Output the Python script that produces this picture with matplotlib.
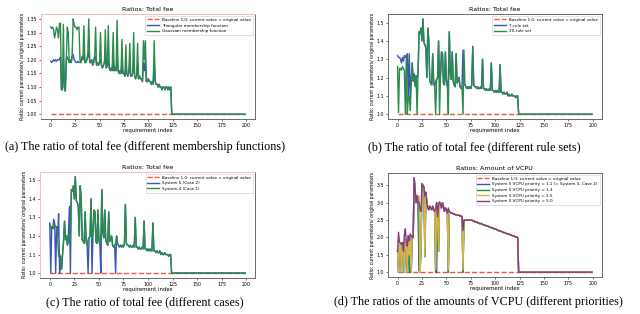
import numpy as np
import matplotlib
matplotlib.use("Agg")
import matplotlib.pyplot as plt

# ---------------- data ----------------
idx = np.arange(200)
tail = [1.00] * 75  # indices 125..199 all equal to 1.0

# (a) membership functions
gauss_a = [1.32, 1.315, 1.32, 1.31, 1.28, 1.30, 1.32, 1.31, 1.28, 1.33, 1.335, 1.09, 1.09, 1.33, 1.10, 1.085, 1.20, 1.32, 1.30, 1.19, 1.20, 1.19, 1.22, 1.35, 1.33,
           1.32, 1.32, 1.31, 1.32, 1.32, 1.20, 1.19, 1.21, 1.20, 1.325, 1.20, 1.19, 1.20, 1.22, 1.35, 1.19, 1.19, 1.20, 1.18, 1.19, 1.21, 1.32, 1.18, 1.19, 1.18,
           1.19, 1.30, 1.18, 1.17, 1.18, 1.19, 1.31, 1.17, 1.18, 1.325, 1.17, 1.16, 1.17, 1.16, 1.30, 1.16, 1.17, 1.16, 1.345, 1.16, 1.15, 1.16, 1.15, 1.275, 1.15,
           1.15, 1.14, 1.255, 1.15, 1.14, 1.15, 1.26, 1.14, 1.14, 1.15, 1.30, 1.14, 1.13, 1.14, 1.26, 1.13, 1.14, 1.13, 1.13, 1.12, 1.27, 1.20, 1.27, 1.12, 1.12,
           1.13, 1.12, 1.12, 1.11, 1.12, 1.11, 1.27, 1.12, 1.11, 1.11, 1.10, 1.11, 1.10, 1.10, 1.09, 1.10, 1.10, 1.09, 1.10, 1.10, 1.09, 1.10, 1.09, 1.10, 1.00] + tail
tri_a = [1.195, 1.19, 1.195, 1.20, 1.195, 1.20, 1.195, 1.20, 1.20, 1.20, 1.21, 1.09, 1.09, 1.20, 1.10, 1.085, 1.20, 1.21, 1.20, 1.19, 1.20, 1.19, 1.21, 1.22, 1.20,
         1.195, 1.19, 1.19, 1.195, 1.19, 1.19, 1.19, 1.21, 1.20, 1.22, 1.19, 1.19, 1.20, 1.21, 1.23, 1.19, 1.19, 1.20, 1.18, 1.19, 1.21, 1.21, 1.18, 1.19, 1.18,
         1.19, 1.20, 1.18, 1.17, 1.18, 1.19, 1.21, 1.17, 1.18, 1.20, 1.17, 1.16, 1.17, 1.16, 1.20, 1.16, 1.17, 1.16, 1.21, 1.16, 1.15, 1.16, 1.15, 1.19, 1.15,
         1.15, 1.14, 1.18, 1.15, 1.14, 1.15, 1.19, 1.14, 1.14, 1.15, 1.20, 1.14, 1.13, 1.14, 1.18, 1.13, 1.14, 1.13, 1.13, 1.12, 1.19, 1.16, 1.20, 1.12, 1.12,
         1.13, 1.12, 1.12, 1.11, 1.12, 1.11, 1.20, 1.12, 1.11, 1.11, 1.10, 1.11, 1.10, 1.10, 1.09, 1.10, 1.10, 1.09, 1.10, 1.10, 1.09, 1.10, 1.09, 1.10, 1.00] + tail

# (b) rule sets
rule20_b = [1.26, 1.01, 1.25, 1.25, 1.24, 1.26, 1.25, 1.24, 1.00, 1.32, 1.00, 1.09, 1.10, 1.02, 1.17, 1.28, 1.18, 1.20, 1.15, 1.21, 1.00, 1.22, 1.45, 1.44, 1.47,
            1.40, 1.52, 1.39, 1.38, 1.36, 1.20, 1.47, 1.40, 1.18, 1.17, 1.16, 1.33, 1.17, 1.15, 1.00, 1.19, 1.20, 1.40, 1.00, 1.21, 1.34, 1.33, 1.17, 1.16, 1.34,
            1.18, 1.15, 1.00, 1.45, 1.22, 1.19, 1.34, 1.18, 1.16, 1.15, 1.33, 1.17, 1.18, 1.20, 1.15, 1.14, 1.15, 1.00, 1.35, 1.16, 1.15, 1.14, 1.15, 1.14, 1.15,
            1.14, 1.16, 1.37, 1.16, 1.15, 1.15, 1.14, 1.15, 1.14, 1.14, 1.15, 1.14, 1.30, 1.14, 1.14, 1.13, 1.14, 1.13, 1.13, 1.14, 1.13, 1.28, 1.13, 1.13, 1.12,
            1.13, 1.12, 1.13, 1.12, 1.12, 1.27, 1.12, 1.12, 1.11, 1.12, 1.11, 1.11, 1.12, 1.10, 1.11, 1.10, 1.10, 1.11, 1.10, 1.10, 1.10, 1.09, 1.10, 1.10, 1.00] + tail
rule7_b = [1.32, 1.31, 1.31, 1.30, 1.28, 1.31, 1.29, 1.32, 1.31, 1.32, 1.33, 1.10, 1.33, 1.08, 1.20, 1.28, 1.19, 1.22, 1.18, 1.21, 1.20, 1.22, 1.45, 1.44, 1.47,
           1.40, 1.52, 1.39, 1.38, 1.36, 1.20, 1.47, 1.40, 1.18, 1.17, 1.16, 1.33, 1.17, 1.15, 1.18, 1.19, 1.20, 1.40, 1.19, 1.21, 1.34, 1.33, 1.17, 1.16, 1.34,
           1.18, 1.15, 1.20, 1.45, 1.22, 1.19, 1.34, 1.18, 1.16, 1.15, 1.33, 1.17, 1.18, 1.20, 1.15, 1.14, 1.15, 1.35, 1.17, 1.16, 1.15, 1.14, 1.15, 1.14, 1.15,
           1.14, 1.16, 1.37, 1.16, 1.15, 1.15, 1.14, 1.15, 1.14, 1.14, 1.15, 1.14, 1.30, 1.14, 1.14, 1.13, 1.14, 1.13, 1.13, 1.14, 1.13, 1.28, 1.13, 1.13, 1.12,
           1.13, 1.12, 1.13, 1.12, 1.12, 1.27, 1.12, 1.12, 1.11, 1.12, 1.11, 1.11, 1.12, 1.10, 1.11, 1.10, 1.10, 1.11, 1.10, 1.10, 1.10, 1.09, 1.10, 1.10, 1.00] + tail

# (c) cases
sys4_c = [1.26, 1.24, 1.25, 1.25, 1.24, 1.26, 1.25, 1.24, 1.20, 1.09, 1.10, 1.09, 1.02, 1.10, 1.17, 1.28, 1.18, 1.20, 1.15, 1.21, 1.16, 1.22, 1.45, 1.44, 1.47,
          1.40, 1.52, 1.39, 1.38, 1.36, 1.20, 1.47, 1.40, 1.18, 1.17, 1.16, 1.33, 1.17, 1.15, 1.18, 1.19, 1.20, 1.40, 1.19, 1.21, 1.34, 1.33, 1.17, 1.16, 1.34,
          1.18, 1.15, 1.20, 1.45, 1.22, 1.19, 1.34, 1.18, 1.16, 1.15, 1.33, 1.17, 1.18, 1.20, 1.15, 1.14, 1.15, 1.16, 1.20, 1.16, 1.15, 1.14, 1.15, 1.14, 1.15,
          1.14, 1.16, 1.37, 1.16, 1.15, 1.15, 1.14, 1.15, 1.14, 1.14, 1.15, 1.14, 1.30, 1.14, 1.14, 1.13, 1.14, 1.13, 1.13, 1.14, 1.13, 1.28, 1.13, 1.13, 1.12,
          1.13, 1.12, 1.13, 1.12, 1.12, 1.27, 1.12, 1.12, 1.11, 1.12, 1.11, 1.11, 1.12, 1.10, 1.11, 1.10, 1.10, 1.11, 1.10, 1.10, 1.10, 1.09, 1.10, 1.10, 1.00] + tail
sys5_c = [1.27, 1.00, 1.25, 1.24, 1.29, 1.27, 1.00, 1.25, 1.20, 1.32, 1.00, 1.09, 1.02, 1.10, 1.17, 1.28, 1.18, 1.20, 1.15, 1.21, 1.36, 1.00, 1.45, 1.44, 1.47,
          1.40, 1.52, 1.39, 1.38, 1.36, 1.20, 1.47, 1.40, 1.18, 1.17, 1.16, 1.33, 1.17, 1.15, 1.00, 1.19, 1.20, 1.40, 1.00, 1.21, 1.34, 1.33, 1.17, 1.16, 1.34,
          1.18, 1.15, 1.00, 1.45, 1.22, 1.19, 1.34, 1.18, 1.16, 1.15, 1.33, 1.17, 1.18, 1.20, 1.15, 1.14, 1.15, 1.00, 1.20, 1.16, 1.15, 1.14, 1.15, 1.14, 1.15,
          1.14, 1.16, 1.37, 1.16, 1.15, 1.15, 1.14, 1.15, 1.14, 1.14, 1.15, 1.14, 1.30, 1.14, 1.14, 1.13, 1.14, 1.13, 1.13, 1.14, 1.13, 1.28, 1.13, 1.13, 1.12,
          1.13, 1.12, 1.13, 1.12, 1.12, 1.27, 1.12, 1.12, 1.11, 1.12, 1.11, 1.11, 1.12, 1.10, 1.11, 1.10, 1.10, 1.11, 1.10, 1.10, 1.10, 1.09, 1.10, 1.10, 1.00] + tail

# (d) VCPU priorities
prio50_d = [1.60, 2.15, 1.85, 1.85, 1.80, 1.85, 1.60, 2.10, 2.25, 1.85, 1.75, 2.05, 1.90, 2.10, 2.05, 2.00, 2.00, 3.72, 3.35, 3.00, 3.20, 3.05, 3.00, 2.80, 2.75,
            3.55, 3.50, 3.45, 3.20, 3.30, 3.00, 2.85, 2.80, 2.90, 2.85, 2.80, 2.90, 2.80, 2.75, 2.85, 3.00, 2.60, 2.95, 3.02, 2.95, 2.85, 3.00, 2.90, 2.75, 2.85,
            2.80, 2.70, 2.85, 2.75, 2.72, 2.70, 2.70, 2.68, 2.68, 2.66, 2.65, 2.65, 2.64, 2.64, 2.62, 2.62, 2.60, 2.20, 2.50, 2.50, 2.50, 2.50, 2.50, 2.50, 2.50,
            2.50, 2.50, 2.48, 2.48, 2.45, 2.45, 2.45, 2.42, 2.42, 2.40, 2.40, 2.40, 2.38, 2.36, 2.36, 2.35, 2.33, 2.33, 2.32, 2.30, 2.30, 2.28, 2.28, 2.26, 2.25,
            2.24, 2.24, 2.22, 2.20, 2.20, 2.18, 2.18, 2.16, 2.15, 2.14, 2.14, 2.12, 2.11, 2.10, 2.10, 2.08, 2.07, 2.06, 2.05, 2.05, 2.03, 2.02, 2.01, 2.00, 1.00] + tail
prio15_d = [1.60, 1.00, 1.80, 1.75, 1.00, 1.85, 1.60, 1.00, 1.95, 1.85, 1.00, 2.05, 1.50, 2.10, 1.00, 2.00, 2.00, 3.72, 3.35, 3.00, 3.20, 3.05, 3.20, 1.00, 1.70,
            3.55, 3.50, 3.45, 1.45, 3.30, 3.00, 2.85, 2.80, 2.90, 2.85, 2.80, 2.90, 2.80, 2.75, 1.08, 3.00, 2.60, 1.60, 3.02, 2.95, 2.85, 3.00, 2.90, 2.75, 2.85,
            2.80, 2.70, 1.08, 2.75, 2.72, 2.70, 2.70, 2.68, 2.68, 2.66, 2.65, 2.65, 2.64, 2.64, 2.62, 2.62, 2.60, 1.08, 2.50, 2.50, 2.50, 2.50, 2.50, 2.50, 2.50,
            2.50, 2.50, 2.48, 2.48, 2.45, 2.45, 2.45, 2.42, 2.42, 2.40, 2.40, 2.40, 2.38, 2.36, 2.36, 2.35, 2.33, 2.33, 2.32, 2.30, 2.30, 2.28, 2.28, 2.26, 2.25,
            2.24, 2.24, 2.22, 2.20, 2.20, 2.18, 2.18, 2.16, 2.15, 2.14, 2.14, 2.12, 2.11, 2.10, 2.10, 2.08, 2.07, 2.06, 2.05, 2.05, 2.03, 2.02, 2.01, 2.00, 1.00] + tail
prio13_d = [1.60, 1.00, 1.80, 1.75, 1.00, 1.85, 1.60, 1.00, 1.95, 1.85, 1.00, 2.05, 1.30, 1.00, 1.00, 2.00, 2.00, 3.72, 3.35, 3.00, 3.20, 3.05, 1.05, 1.00, 1.70,
            3.55, 3.50, 3.45, 1.45, 3.30, 3.00, 2.85, 2.80, 2.90, 2.85, 2.80, 2.90, 2.80, 2.75, 1.00, 3.00, 2.60, 1.60, 3.02, 2.95, 2.85, 3.00, 2.90, 2.75, 2.85,
            2.80, 2.70, 1.00, 2.75, 2.72, 2.70, 2.70, 2.68, 2.68, 2.66, 2.65, 2.65, 2.64, 2.64, 2.62, 2.62, 2.60, 1.00, 2.50, 2.50, 2.50, 2.50, 2.50, 2.50, 2.50,
            2.50, 2.50, 2.48, 2.48, 2.45, 2.45, 2.45, 2.42, 2.42, 2.40, 2.40, 2.40, 2.38, 2.36, 2.36, 2.35, 2.33, 2.33, 2.32, 2.30, 2.30, 2.28, 2.28, 2.26, 2.25,
            2.24, 2.24, 2.22, 2.20, 2.20, 2.18, 2.18, 2.16, 2.15, 2.14, 2.14, 2.12, 2.11, 2.10, 2.10, 2.08, 2.07, 2.06, 2.05, 2.05, 2.03, 2.02, 2.01, 2.00, 1.00] + tail
prio11_d = [1.60, 1.00, 1.80, 1.75, 1.00, 1.85, 1.60, 1.00, 1.95, 1.85, 1.00, 2.05, 1.00, 1.00, 1.00, 2.00, 2.00, 3.72, 3.35, 3.00, 3.20, 3.05, 1.05, 1.00, 1.70,
            3.55, 3.50, 3.45, 1.45, 3.30, 3.00, 2.85, 2.80, 2.90, 2.85, 2.80, 2.90, 2.80, 2.75, 1.00, 1.00, 2.60, 1.60, 3.02, 2.95, 2.85, 3.00, 2.90, 2.75, 2.85,
            2.80, 2.70, 1.00, 2.75, 2.72, 2.70, 2.70, 2.68, 2.68, 2.66, 2.65, 2.65, 2.64, 2.64, 2.62, 2.62, 2.60, 1.00, 2.50, 2.50, 2.50, 2.50, 2.50, 2.50, 2.50,
            2.50, 2.50, 2.48, 2.48, 2.45, 2.45, 2.45, 2.42, 2.42, 2.40, 2.40, 2.40, 2.38, 2.36, 2.36, 2.35, 2.33, 2.33, 2.32, 2.30, 2.30, 2.28, 2.28, 2.26, 2.25,
            2.24, 2.24, 2.22, 2.20, 2.20, 2.18, 2.18, 2.16, 2.15, 2.14, 2.14, 2.12, 2.11, 2.10, 2.10, 2.08, 2.07, 2.06, 2.05, 2.05, 2.03, 2.02, 2.01, 2.00, 1.00] + tail

baseline = [1.0] * 200

baseline_label = "Baseline 1.0: current value = original value"
title_fee = "Ratios: Total fee"
title_vcpu = "Ratios: Amount of VCPU"
xlabel = "requirement index"
ylabel = "Ratio: current parameters/ original parameters"
captions = ["(a) The ratio of total fee (different membership functions)",
            "(b) The ratio of total fee (different rule sets)",
            "(c) The ratio of total fee (different cases)",
            "(d) The ratios of the amounts of VCPU (different priorities)"]

# ---------------- style ----------------
RED = "#ec5a44"
BLUE = "#3b55b8"
GREEN = "#2b8a4c"
YELLOW = "#d8b34a"
PURPLE = "#8a3a80"
SALMON = "#f2b4a4"
GRAY = "#555555"

fig = plt.figure(figsize=(6.4, 3.14), dpi=100)
fig.patch.set_facecolor("white")

def setup(ax, title, yticks, yfmt, salmon=False):
    ax.set_title(title, fontsize=4.6, pad=2)
    ax.set_xlabel(xlabel, fontsize=3.9, labelpad=0.5)
    ax.set_ylabel(ylabel, fontsize=3.3, labelpad=1.5)
    ax.set_xticks(np.arange(0, 201, 25))
    ax.set_yticks(yticks)
    ax.set_yticklabels([yfmt.format(v) for v in yticks])
    ax.tick_params(labelsize=3.4, length=1.5, width=0.4, pad=1.2)
    for s in ax.spines.values():
        s.set_linewidth(0.6)
        s.set_color(GRAY)
    if salmon:
        ax.spines["top"].set_color(SALMON)
        ax.spines["left"].set_color(SALMON)
    ax.legend(loc="upper right", fontsize=3.0, handlelength=2.8, borderpad=0.4,
              labelspacing=0.4, frameon=True, fancybox=False, edgecolor="#cccccc",
              framealpha=1.0).get_frame().set_linewidth(0.4)

LW = 1.0

# (a)
ax = fig.add_axes([0.064, 0.621, 0.334, 0.334])
ax.plot(idx, baseline, color=RED, ls="--", lw=LW, label=baseline_label)
ax.plot(idx, tri_a, color=BLUE, lw=LW, label="Triangular membership function")
ax.plot(idx, gauss_a, color=GREEN, lw=LW, label="Gaussian membership function")
setup(ax, title_fee, np.round(np.arange(1.0, 1.351, 0.05), 2), "{:.2f}", salmon=True)

# (b)
ax = fig.add_axes([0.606, 0.621, 0.334, 0.334])
ax.plot(idx, baseline, color=RED, ls="--", lw=LW, label=baseline_label)
ax.plot(idx, rule7_b, color=BLUE, lw=LW, label="7-rule set")
ax.plot(idx, rule20_b, color=GREEN, lw=LW, label="20-rule set")
setup(ax, title_fee, np.round(np.arange(1.0, 1.51, 0.1), 1), "{:.1f}")

# (c)
ax = fig.add_axes([0.0625, 0.115, 0.336, 0.338])
ax.plot(idx, baseline, color=RED, ls="--", lw=LW, label=baseline_label)
ax.plot(idx, sys5_c, color=BLUE, lw=LW, label="System 5 (Case 2)")
ax.plot(idx, sys4_c, color=GREEN, lw=LW, label="System 4 (Case 1)")
setup(ax, title_fee, np.round(np.arange(1.0, 1.51, 0.1), 1), "{:.1f}", salmon=True)

# (d)
ax = fig.add_axes([0.606, 0.118, 0.334, 0.331])
ax.plot(idx, baseline, color=RED, ls="--", lw=LW, label=baseline_label)
ax.plot(idx, prio11_d, color=BLUE, lw=LW, label="System 5 VCPU priority = 1.1 (= System 3, Case 2)")
ax.plot(idx, prio13_d, color=GREEN, lw=LW, label="System 5 VCPU priority = 1.3")
ax.plot(idx, prio15_d, color=YELLOW, lw=LW, label="System 5 VCPU priority = 1.5")
ax.plot(idx, prio50_d, color=PURPLE, lw=LW, label="System 5 VCPU priority = 5.0")
setup(ax, title_vcpu, np.round(np.arange(1.0, 3.51, 0.5), 1), "{:.1f}")

# captions
cap_kw = dict(ha="center", va="center", fontsize=8.7, family="Liberation Serif")
fig.text(145 / 640, 1 - 147 / 314, captions[0], **cap_kw)
fig.text(474 / 640, 1 - 147 / 314, captions[1], **cap_kw)
fig.text(145 / 640, 1 - 302 / 314, captions[2], **cap_kw)
fig.text(478 / 640, 1 - 302 / 314, captions[3], **cap_kw)

fig.savefig("out.png", dpi=100, facecolor="white")
